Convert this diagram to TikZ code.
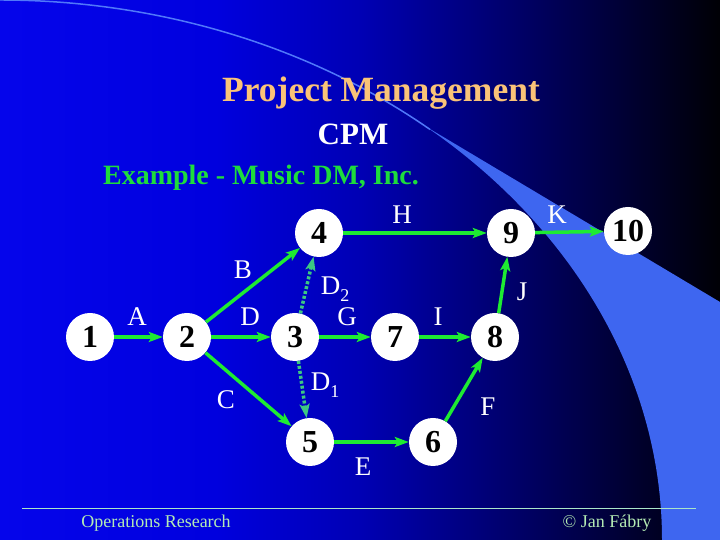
\documentclass[tikz,border=0pt]{standalone}
\usepackage{fontspec}
\setmainfont{Liberation Serif}
\usetikzlibrary{arrows.meta}
\definecolor{bgA}{RGB}{5,5,235}
\definecolor{bgB}{RGB}{0,0,222}
\definecolor{bgC}{RGB}{0,0,180}
\definecolor{bgD}{RGB}{0,0,110}
\definecolor{bgE}{RGB}{0,0,40}
\definecolor{bgF}{RGB}{0,0,5}
\definecolor{bandblue}{RGB}{62,102,240}
\definecolor{thinblue}{RGB}{80,120,250}
\definecolor{titleorange}{RGB}{250,195,120}
\definecolor{exgreen}{RGB}{30,220,60}
\definecolor{arrgreen}{RGB}{30,235,50}
\definecolor{dumgreen}{RGB}{60,200,130}
\definecolor{foottext}{RGB}{180,235,180}
\definecolor{footline}{RGB}{170,230,200}
\pgfdeclarehorizontalshading{bgshade}{100bp}{color(0bp)=(bgA); color(25bp)=(bgA); color(40bp)=(bgB); color(50bp)=(bgC); color(60bp)=(bgD); color(70bp)=(bgE); color(75bp)=(bgF); color(100bp)=(bgF)}
\tikzset{
  x=1pt, y=1pt,
  evt/.style={circle, fill=white, minimum size=48pt, inner sep=0pt, text=black, font=\fontsize{32}{34}\selectfont\bfseries},
  act/.style={draw=arrgreen, line width=3.5pt, -{Stealth[length=14pt,width=10pt,inset=3pt]}},
  dummy/.style={draw=dumgreen, line width=3.5pt, dash pattern=on 3pt off 2pt, -{Stealth[length=14pt,width=10pt,inset=3pt]}},
  lbl/.style={text=white, inner sep=0pt, font=\fontsize{27}{29}\selectfont},
  foot/.style={text=foottext, inner sep=0pt, font=\fontsize{18}{20}\selectfont}
}
\begin{document}
\begin{tikzpicture}
\useasboundingbox (0,0) rectangle (720,540);
\shade[shading=bgshade] (0,0) rectangle (720,540);
\draw[thinblue, line width=1.5pt] (0,540) arc[start angle=90, end angle=49.5, x radius=662, y radius=540];
\fill[bandblue] (430,411) -- (720,238) -- (720,0) -- (662,0) arc[start angle=0, end angle=49.5, x radius=662, y radius=540] -- cycle;

\node[text=titleorange, font=\fontsize{35.5}{38}\selectfont\bfseries] (title) at (381,447) {Project Management};
\node[text=white, font=\fontsize{31}{33}\selectfont\bfseries] (cpm) at (353,406) {CPM};
\node[text=exgreen, font=\fontsize{28}{30}\selectfont\bfseries] (example) at (261,362) {Example - Music DM, Inc.};

\node[evt] (n1) at (90,203) {1};
\node[evt] (n2) at (187,203) {2};
\node[evt] (n3) at (295,203) {3};
\node[evt] (n4) at (319,307) {4};
\node[evt] (n5) at (310,98) {5};
\node[evt] (n6) at (433,98) {6};
\node[evt] (n7) at (395,203) {7};
\node[evt] (n8) at (495,203) {8};
\node[evt] (n9) at (511,307) {9};
\node[evt] (n10) at (628,309) {10};

\draw[act] (n1) -- (n2);
\draw[act] (n2) -- (n4);
\draw[act] (n2) -- (n3);
\draw[act] (n2) -- (n5);
\draw[dummy] (n3) -- (n4);
\draw[dummy] (n3) -- (n5);
\draw[act] (n3) -- (n7);
\draw[act] (n4) -- (n9);
\draw[act] (n7) -- (n8);
\draw[act] (n5) -- (n6);
\draw[act] (n6) -- (n8);
\draw[act] (n8) -- (n9);
\draw[act] (n9) -- (n10);

\node[lbl] (lA) at (137,223) {A};
\node[lbl] (lB) at (243,270) {B};
\node[lbl] (lD) at (250,223) {D};
\node[lbl] (lD2) at (335,251) {D\raisebox{-0.28em}{\fontsize{18}{18}\selectfont 2}};
\node[lbl] (lG) at (347,223) {G};
\node[lbl] (lH) at (402,325) {H};
\node[lbl] (lI) at (438,223) {I};
\node[lbl] (lJ) at (522,248) {J};
\node[lbl] (lK) at (557,325) {K};
\node[lbl] (lC) at (226,140) {C};
\node[lbl] (lD1) at (325,155) {D\raisebox{-0.28em}{\fontsize{18}{18}\selectfont 1}};
\node[lbl] (lE) at (363,73) {E};
\node[lbl] (lF) at (488,133) {F};

\coordinate (fl) at (22,32);
\coordinate (fr) at (696,32);
\draw[footline, line width=0.8pt] (fl) -- (fr);
\node[foot] (or) at (156,17) {Operations Research};
\node[foot] (jf) at (607,17) {© Jan Fábry};
\end{tikzpicture}
\end{document}
